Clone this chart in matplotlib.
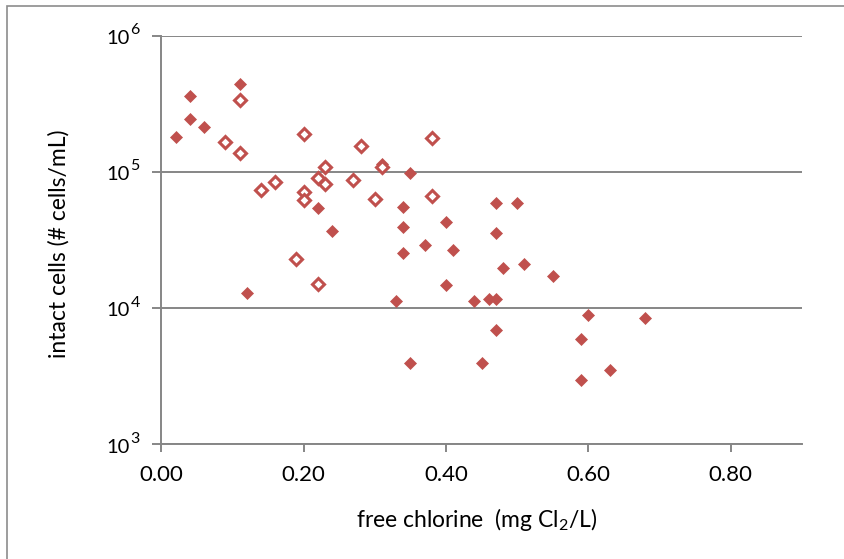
import numpy as np
import matplotlib
matplotlib.use("Agg")
import matplotlib.pyplot as plt
import matplotlib.transforms as mtransforms
from matplotlib.patches import Rectangle
from matplotlib.ticker import FixedLocator, NullLocator

plt.rcParams['font.family'] = ['Lato', 'DejaVu Sans']
plt.rcParams['mathtext.fontset'] = 'custom'
plt.rcParams['mathtext.rm'] = 'Lato'
plt.rcParams['mathtext.it'] = 'Lato:italic'

# filled diamonds
x_filled = [0.02, 0.04, 0.04, 0.06, 0.11, 0.12, 0.22, 0.24, 0.31, 0.33,
            0.34, 0.34, 0.34, 0.35, 0.35, 0.37, 0.40, 0.40, 0.41, 0.44,
            0.45, 0.46, 0.47, 0.47, 0.47, 0.47, 0.48, 0.50, 0.51, 0.55,
            0.60, 0.59, 0.59, 0.63, 0.68]
y_filled = [1.81e5, 3.6e5, 2.43e5, 2.12e5, 4.4e5, 1.28e4, 5.4e4, 3.66e4, 1.14e5, 1.13e4,
            5.55e4, 3.92e4, 2.55e4, 9.8e4, 3.97e3, 2.9e4, 4.31e4, 1.48e4, 2.67e4, 1.13e4,
            3.97e3, 1.16e4, 5.94e4, 3.54e4, 1.16e4, 6.9e3, 1.97e4, 5.94e4, 2.1e4, 1.73e4,
            8.95e3, 5.9e3, 2.96e3, 3.5e3, 8.41e3]

# open diamonds
x_open = [0.09, 0.11, 0.11, 0.14, 0.16, 0.19, 0.20, 0.20, 0.20, 0.22,
          0.22, 0.23, 0.23, 0.27, 0.28, 0.30, 0.31, 0.38, 0.38]
y_open = [1.67e5, 3.39e5, 1.37e5, 7.37e4, 8.38e4, 2.28e4, 1.90e5, 7.16e4, 6.2e4, 8.98e4,
          1.50e4, 1.09e5, 8.1e4, 8.67e4, 1.56e5, 6.3e4, 1.08e5, 1.78e5, 6.68e4]

x_ticks = [0.0, 0.2, 0.4, 0.6, 0.8]
x_ticklabels = ["0.00", "0.20", "0.40", "0.60", "0.80"]
y_ticks = [1e3, 1e4, 1e5, 1e6]
y_exponents = ["3", "4", "5", "6"]

red = "#C0504D"
grey = "#868686"

fig = plt.figure(figsize=(8.44, 5.59), dpi=100)
ax = fig.add_axes([161.3/844, 1-444.3/559, 640.4/844, 408.6/559])

ax.plot(x_filled, y_filled, linestyle="none", marker="D", ms=6.3,
        mfc=red, mec=red, mew=0.5, zorder=3)
ax.plot(x_open, y_open, linestyle="none", marker="D", ms=5.8,
        mfc="white", mec=red, mew=2.2, zorder=3)

ax.set_yscale("log")
ax.set_xlim(0, 0.9)
ax.set_ylim(1e3, 1e6)

ax.xaxis.set_major_locator(FixedLocator(x_ticks))
ax.set_xticklabels(x_ticklabels)
ax.yaxis.set_major_locator(FixedLocator(y_ticks))
ax.yaxis.set_minor_locator(NullLocator())
ax.set_yticklabels([])

# y tick labels like Excel: "10" with a large superscript
trans = mtransforms.blended_transform_factory(ax.transAxes, ax.transData)
for val, ex in zip(y_ticks, y_exponents):
    t_base = mtransforms.offset_copy(trans, fig=fig, x=-22.5, y=-2, units="points")
    t_exp = mtransforms.offset_copy(trans, fig=fig, x=-15.5, y=4, units="points")
    ax.text(0, val, "10", transform=t_base, ha="right", va="center", fontsize=14.5)
    ax.text(0, val, ex, transform=t_exp, ha="right", va="center", fontsize=11.5)

ax.grid(axis="y", color=grey, linewidth=1.4)
ax.set_axisbelow(True)
for s in ["top", "right"]:
    ax.spines[s].set_visible(False)
for s in ["left", "bottom"]:
    ax.spines[s].set_color(grey)
    ax.spines[s].set_linewidth(1.4)

ax.tick_params(axis="both", direction="out", color=grey, width=1.4,
               labelcolor="black")
ax.tick_params(axis="x", length=5.8, pad=9, labelsize=16)
ax.tick_params(axis="y", length=6.5)

ax.set_xlabel(r"free chlorine  (mg Cl$_\mathregular{2}$/L)", fontsize=16.5)
ax.xaxis.set_label_coords(0.492, -0.151)
ax.set_ylabel("intact cells (# cells/mL)", fontsize=16.5)
ax.yaxis.set_label_coords(-0.1426, 0.49)

# outer chart frame
fig.patches.append(Rectangle((7/844, -0.5), 2, 0.5 + 553/559, transform=fig.transFigure,
                             fill=False, edgecolor="#8c8c8c", linewidth=1.2))

fig.savefig("out.png", dpi=100)
